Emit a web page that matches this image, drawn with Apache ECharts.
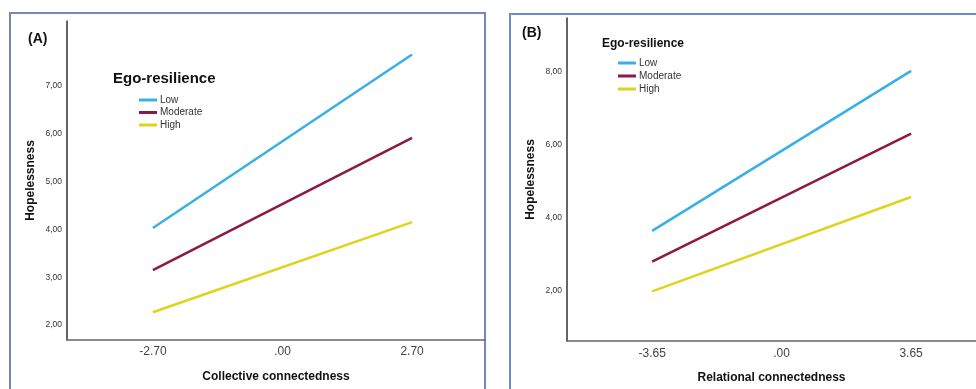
<!DOCTYPE html>
<html>
<head>
<meta charset="utf-8">
<script src="https://cdn.jsdelivr.net/npm/echarts@6/dist/echarts.min.js"></script>
<style>
    html, body { margin: 0; padding: 0; background: #fff; }
    #chart { width: 976px; height: 389px; }
</style>
</head>
<body>
<div id="chart"></div>
<script>
// panel A: collective connectedness
const xTicksA = [-2.7, 0, 2.7];
const yTicksA = [2, 3, 4, 5, 6, 7];
const lowA = [4.03, 7.65];
const moderateA = [3.15, 5.91];
const highA = [2.27, 4.15];

// panel B: relational connectedness
const xTicksB = [-3.65, 0, 3.65];
const yTicksB = [2, 4, 6, 8];
const lowB = [3.63, 8.02];
const moderateB = [2.79, 6.3];
const highB = [1.97, 4.56];

const groups = ["Low", "Moderate", "High"];
const colors = ["#3AAEE6", "#8C1A42", "#E0D31C"];

const font = "Liberation Sans";

function pairs(xs, ys) {
    return [[xs[0], ys[0]], [xs[2], ys[1]]];
}

function xLabel(v) {
    if (v === 0) return ".00";
    return v.toFixed(2);
}

function yLabel(v) {
    return v.toFixed(2).replace(".", ",");
}

function xAxis(idx, ticks, min, max, name, margin) {
    return {
        type: "value",
        gridIndex: idx,
        min: min,
        max: max,
        splitLine: { show: false },
        axisTick: { show: false },
        axisLine: { onZero: false, lineStyle: { color: "#666", width: 1.5 } },
        axisLabel: {
            customValues: ticks,
            formatter: xLabel,
            margin: margin,
            fontFamily: font,
            fontSize: 12,
            color: "#444"
        },
        name: name,
        nameLocation: "middle",
        nameGap: 31,
        nameTextStyle: { fontFamily: font, fontSize: 12, fontWeight: "bold", color: "#111" }
    };
}

function yAxis(idx, ticks, min, max) {
    return {
        type: "value",
        gridIndex: idx,
        min: min,
        max: max,
        splitLine: { show: false },
        axisTick: { show: false },
        axisLine: { show: true, onZero: false, lineStyle: { color: "#333", width: 1.5 } },
        axisLabel: {
            customValues: ticks,
            formatter: yLabel,
            margin: 5,
            fontFamily: font,
            fontSize: 8.5,
            color: "#333"
        },
        name: "Hopelessness",
        nameLocation: "middle",
        nameGap: 30,
        nameTextStyle: { fontFamily: font, fontSize: 12, fontWeight: "bold", color: "#111" }
    };
}

function lineSeries(name, i, xs, ys, idx) {
    return {
        name: name,
        type: "line",
        xAxisIndex: idx,
        yAxisIndex: idx,
        data: pairs(xs, ys),
        symbol: "none",
        silent: true,
        lineStyle: { color: colors[i], width: 2.5 },
        itemStyle: { color: colors[i] }
    };
}

function legend(left, top, gap) {
    return {
        data: groups,
        orient: "vertical",
        left: left,
        top: top,
        icon: "rect",
        itemWidth: 18,
        itemHeight: 3,
        itemGap: gap,
        selectedMode: false,
        textStyle: { fontFamily: font, fontSize: 10, color: "#333", padding: [0, 0, 0, -2] }
    };
}

const myChart = echarts.init(document.getElementById("chart"));

const option = {
    animation: false,
    title: [
        { text: "Ego-resilience", left: 113, top: 71, textStyle: { fontFamily: font, fontSize: 15, fontWeight: "bold", color: "#111" }, padding: 0 },
        { text: "Ego-resilience", left: 602, top: 38, textStyle: { fontFamily: font, fontSize: 12, fontWeight: "bold", color: "#111" }, padding: 0 }
    ],
    legend: [legend(134, 90, 2.5), legend(613, 53, 3)],
    grid: [
        { left: 67, top: 21, width: 418, height: 319 },
        { left: 567, top: 18, width: 409, height: 325 }
    ],
    xAxis: [
        xAxis(0, xTicksA, -4.49, 4.22, "Collective connectedness", 6),
        xAxis(1, xTicksB, -6.05, 5.48, "Relational connectedness", 7)
    ],
    yAxis: [
        yAxis(0, yTicksA, 1.69, 8.35),
        yAxis(1, yTicksB, 0.61, 9.47)
    ],
    series: [
        lineSeries(groups[0], 0, xTicksA, lowA, 0),
        lineSeries(groups[1], 1, xTicksA, moderateA, 0),
        lineSeries(groups[2], 2, xTicksA, highA, 0),
        lineSeries(groups[0], 0, xTicksB, lowB, 1),
        lineSeries(groups[1], 1, xTicksB, moderateB, 1),
        lineSeries(groups[2], 2, xTicksB, highB, 1)
    ],
    graphic: [
        { type: "rect", shape: { x: 10, y: 13, width: 475, height: 400 }, style: { fill: "none", stroke: "#7388B4", lineWidth: 2 }, silent: true, z: -1 },
        { type: "rect", shape: { x: 510, y: 14, width: 500, height: 400 }, style: { fill: "none", stroke: "#6A8BD0", lineWidth: 2 }, silent: true, z: -1 },
        { type: "text", left: 28, top: 32, style: { text: "(A)", font: "bold 14px " + font, fill: "#111" } },
        { type: "text", left: 522, top: 26, style: { text: "(B)", font: "bold 14px " + font, fill: "#111" } }
    ]
};

myChart.setOption(option);
</script>
</body>
</html>
